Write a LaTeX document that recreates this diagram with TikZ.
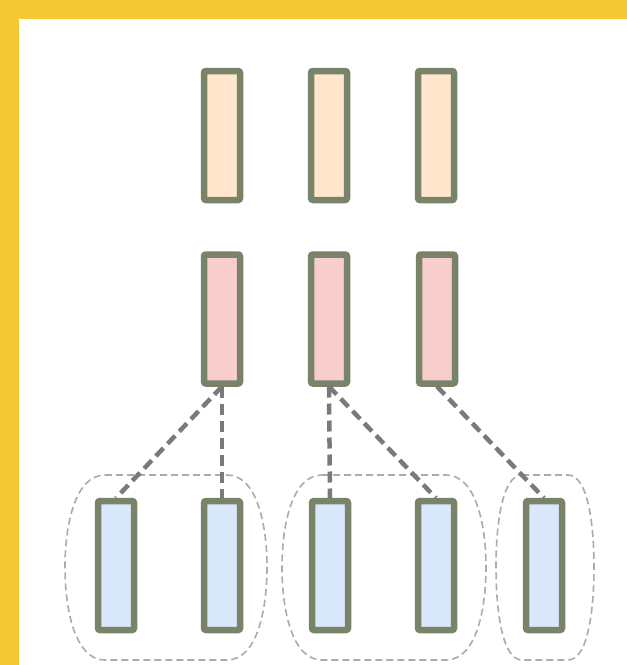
\documentclass[tikz,border=0pt]{standalone}
\begin{document}
\begin{tikzpicture}[x=1pt,y=-1pt,
  bar/.style={draw=barline, line width=6.5pt, rounded corners=2pt,
    minimum width=36pt, minimum height=129pt, inner sep=0pt, outer sep=3pt},
  link/.style={draw=linkgray, line width=4.5pt, dash pattern=on 11pt off 6pt},
  group/.style={draw=groupgray, line width=1.6pt, dash pattern=on 7pt off 4pt}]
\definecolor{frame}{HTML}{F4C832}
\definecolor{barline}{HTML}{78836A}
\definecolor{topfill}{HTML}{FFE6CC}
\definecolor{midfill}{HTML}{F8CECC}
\definecolor{lowfill}{HTML}{DAE8FC}
\definecolor{linkgray}{HTML}{7A7A7A}
\definecolor{groupgray}{HTML}{ABABAB}
% frame
\fill[frame] (0,0) rectangle (627,665);
\fill[white] (19,19) rectangle (627,665);
\useasboundingbox (0,0) rectangle (627,665);
% top row
\node[bar, fill=topfill] (t1) at (222,135.5) {};
\node[bar, fill=topfill] (t2) at (329,135.5) {};
\node[bar, fill=topfill] (t3) at (436,135.5) {};
% middle row
\node[bar, fill=midfill] (m1) at (222,319) {};
\node[bar, fill=midfill] (m2) at (329,319) {};
\node[bar, fill=midfill] (m3) at (437,319) {};
% bottom row
\node[bar, fill=lowfill] (b1) at (116,565.5) {};
\node[bar, fill=lowfill] (b2) at (222,565.5) {};
\node[bar, fill=lowfill] (b3) at (330,565.5) {};
\node[bar, fill=lowfill] (b4) at (436,565.5) {};
\node[bar, fill=lowfill] (b5) at (544,565.5) {};
% groups
\draw[group] (105,475) -- (227,475)
  .. controls (257,475) and (267,525) .. (267,567)
  .. controls (267,610) and (257,660) .. (227,660)
  -- (105,660)
  .. controls (75,660) and (65,610) .. (65,567)
  .. controls (65,525) and (75,475) .. (105,475) -- cycle;
\draw[group] (322,475) -- (446,475)
  .. controls (476,475) and (486,525) .. (486,567)
  .. controls (486,610) and (476,660) .. (446,660)
  -- (322,660)
  .. controls (292,660) and (282,610) .. (282,567)
  .. controls (282,525) and (292,475) .. (322,475) -- cycle;
\draw[group] (522,475) -- (568,475)
  .. controls (588,475) and (594,525) .. (594,567)
  .. controls (594,610) and (588,660) .. (568,660)
  -- (522,660)
  .. controls (502,660) and (496,610) .. (496,567)
  .. controls (496,525) and (502,475) .. (522,475) -- cycle;
% connectors
\draw[link] (m1.south) -- (b1.north);
\draw[link] (m1.south) -- (b2.north);
\draw[link] (m2.south) -- (b3.north);
\draw[link] (m2.south) -- (b4.north);
\draw[link] (m3.south) -- (b5.north);
\end{tikzpicture}
\end{document}
